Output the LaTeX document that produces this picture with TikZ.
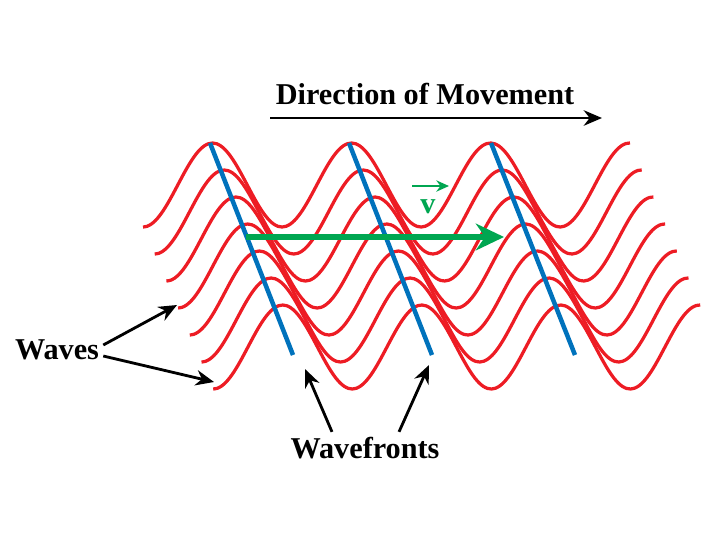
\documentclass[tikz,border=0pt]{standalone}
\usepackage{fontspec}
\setmainfont{Liberation Serif}
\definecolor{WaveRed}{RGB}{237, 28, 36}
\definecolor{FrontBlue}{RGB}{0, 114, 188}
\definecolor{VelGreen}{RGB}{0, 166, 81}
\usetikzlibrary{arrows.meta, positioning}

\begin{document}
\begin{tikzpicture}[x=0.025cm, y=-0.025cm,
        wave/.style={WaveRed, line width=2.3pt},
        front/.style={FrontBlue, line width=3.2pt},
        label/.style={font=\fontsize{21.5}{24}\selectfont\bfseries, inner sep=0pt},
        pointer/.style={line width=2pt, -{Stealth[length=13pt, width=11pt]}}
    ]
        \useasboundingbox (0,0) rectangle (720,555);

        % waves
        \foreach \i in {0,...,6} {
            \draw[wave, smooth, samples=120, domain=0:487]
                plot ({143+11.7*\i+\x}, {185+27*\i+42*cos(\x/139*360)});
        }

        % wavefronts
        \foreach \xa/\xb [count=\k] in {210/293, 349/432, 491/575} {
            \coordinate (ft\k) at (\xa,143);
            \coordinate (fb\k) at (\xb,355);
            \draw[front] (ft\k) -- (fb\k);
        }

        % velocity
        \coordinate (vs) at (246,237);
        \coordinate (ve) at (504,237);
        \draw[VelGreen, line width=4pt, -{Stealth[length=20pt, width=19pt]}] (vs) -- (ve);
        \node[label, text=VelGreen] (vel) at (428,207) {v};
        \coordinate (vl) at (412,186);
        \coordinate (vr) at (449,186);
        \draw[VelGreen, line width=2pt, -{Stealth[length=9pt, width=8pt]}] (vl) -- (vr);

        % direction of movement
        \node[label] (dir) at (425,94) {Direction of Movement};
        \coordinate (ds) at (270,118);
        \coordinate (de) at (602,118);
        \draw[pointer] (ds) -- (de);

        % labels
        \node[label] (waves) at (57,350) {Waves};
        \coordinate (w1) at (177,305);
        \coordinate (w2) at (214,382);
        \draw[pointer] (waves.east) ++(4,-5) -- (w1);
        \draw[pointer] (waves.east) ++(4,6) -- (w2);

        \node[label] (fronts) at (365,448) {Wavefronts};
        \coordinate (f1) at (305,369);
        \coordinate (f2) at (429,365);
        \draw[pointer] (fronts.north) ++(-33,-5) -- (f1);
        \draw[pointer] (fronts.north) ++(34,-5) -- (f2);
    \end{tikzpicture}
\end{document}
